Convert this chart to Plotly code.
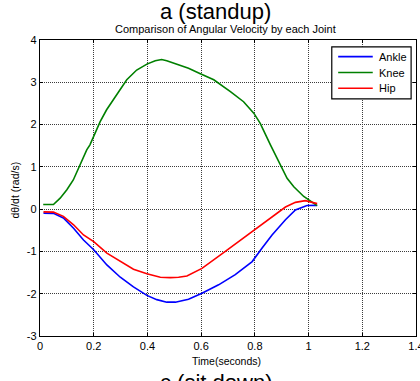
import plotly.graph_objects as go

# Data
series_names = ["Ankle", "Knee", "Hip"]
series_colors = ["rgb(0,0,255)", "rgb(0,128,0)", "rgb(255,0,0)"]

t_ankle = [0.013, 0.05, 0.087, 0.125, 0.162, 0.20, 0.249, 0.299, 0.348, 0.398, 0.435, 0.472, 0.504,
           0.553, 0.603, 0.665, 0.727, 0.79, 0.827, 0.864, 0.914, 0.951, 0.994, 1.032]
ankle = [-0.095, -0.10, -0.21, -0.45, -0.73, -0.96, -1.32, -1.61, -1.84, -2.04, -2.14, -2.20, -2.20,
         -2.13, -1.99, -1.79, -1.55, -1.24, -0.92, -0.61, -0.25, -0.02, 0.085, 0.09]

t_knee = [0.012, 0.05, 0.075, 0.10, 0.124, 0.149, 0.174, 0.186, 0.199, 0.224, 0.248, 0.286, 0.323,
          0.36, 0.398, 0.429, 0.453, 0.472, 0.509, 0.553, 0.597, 0.647, 0.709, 0.758, 0.796, 0.82,
          0.858, 0.895, 0.92, 0.945, 0.982, 1.032]
knee = [0.11, 0.11, 0.26, 0.46, 0.69, 1.05, 1.40, 1.52, 1.72, 2.07, 2.35, 2.70, 3.06,
        3.29, 3.43, 3.51, 3.54, 3.51, 3.43, 3.33, 3.20, 3.06, 2.78, 2.54, 2.27, 2.03,
        1.52, 1.05, 0.73, 0.53, 0.30, 0.085]

t_hip = [0.013, 0.05, 0.087, 0.125, 0.162, 0.20, 0.249, 0.299, 0.348, 0.398, 0.448, 0.485, 0.516,
         0.547, 0.603, 0.69, 0.752, 0.802, 0.864, 0.914, 0.951, 0.988, 1.032]
hip = [-0.064, -0.07, -0.17, -0.37, -0.61, -0.77, -1.04, -1.24, -1.42, -1.53, -1.61, -1.62, -1.61,
       -1.58, -1.40, -1.00, -0.71, -0.47, -0.17, 0.05, 0.16, 0.20, 0.13]

x_ticks = [0, 0.2, 0.4, 0.6, 0.8, 1, 1.2, 1.4]
x_tick_labels = ["0", "0.2", "0.4", "0.6", "0.8", "1", "1.2", "1.4"]
y_ticks = [-3, -2, -1, 0, 1, 2, 3, 4]
y_tick_labels = ["-3", "-2", "-1", "0", "1", "2", "3", "4"]

FONT = "Liberation Sans, Arial, sans-serif"

fig = go.Figure()
for name, color, tx, vy in zip(series_names, series_colors,
                               [t_ankle, t_knee, t_hip], [ankle, knee, hip]):
    fig.add_trace(go.Scatter(x=tx, y=vy, mode="lines", name=name,
                             line=dict(color=color, width=1.6), showlegend=False,
                             hoverinfo="skip"))

axis_common = dict(
    showline=True, linecolor="black", linewidth=1.3, mirror="ticks",
    ticks="inside", ticklen=3, tickcolor="black", tickwidth=1,
    showgrid=True, gridcolor="rgb(60,60,60)", griddash="1px,1px", gridwidth=0.8,
    zeroline=False, automargin=False, ticklabeloverflow="allow",
    tickfont=dict(family=FONT, size=11, color="black"),
)

fig.update_xaxes(range=[0, 1.4], tickmode="array", tickvals=x_ticks, ticktext=x_tick_labels,
                 **axis_common)
fig.update_yaxes(range=[-3, 4], tickmode="array", tickvals=y_ticks, ticktext=y_tick_labels,
                 **axis_common)

# Custom legend box (MATLAB style), positioned in paper coordinates
shapes = [dict(type="rect", xref="paper", yref="paper", x0=0.776, x1=0.987, y0=0.801, y1=0.977,
               line=dict(color="black", width=1.2), fillcolor="white", layer="above")]
annotations = []
leg_y = [0.944, 0.890, 0.837]
for name, color, ly in zip(series_names, series_colors, leg_y):
    shapes.append(dict(type="line", xref="paper", yref="paper", x0=0.793, x1=0.885, y0=ly, y1=ly,
                       line=dict(color=color, width=1.6), layer="above"))
    annotations.append(dict(text=name, xref="paper", yref="paper", x=0.896, y=ly,
                            xanchor="left", yanchor="middle", showarrow=False,
                            font=dict(family=FONT, size=11, color="black")))

annotations += [
    dict(text="a (standup)", xref="paper", yref="paper", x=0.468, y=1.0, yshift=43,
         xanchor="center", yanchor="top", showarrow=False,
         font=dict(family=FONT, size=22, color="black")),
    dict(text="Comparison of Angular Velocity by each Joint", xref="paper", yref="paper",
         x=0.493, y=1.0, yshift=19, xanchor="center", yanchor="top", showarrow=False,
         font=dict(family=FONT, size=11, color="black")),
    dict(text="Time(seconds)", xref="paper", yref="paper", x=0.496, y=-0.0845,
         xanchor="center", yanchor="middle", showarrow=False,
         font=dict(family=FONT, size=10.5, color="black")),
    dict(text="dθ/dt (rad/s)", xref="paper", yref="paper", x=-0.0665, y=0.495,
         xanchor="center", yanchor="middle", textangle=-90, showarrow=False,
         font=dict(family=FONT, size=10.5, color="black")),
    dict(text="c (sit down)", xref="paper", yref="paper", x=0.468, y=0.0, yshift=-32,
         xanchor="center", yanchor="top", showarrow=False,
         font=dict(family=FONT, size=22, color="black")),
]

fig.update_layout(
    width=420, height=381,
    margin=dict(l=40, r=4, t=40, b=45, autoexpand=False),
    paper_bgcolor="white", plot_bgcolor="white",
    font=dict(family=FONT, color="black"),
    showlegend=False,
    shapes=shapes,
    annotations=annotations,
)

fig.write_html(
    "out.html",
    config={"displayModeBar": False},
    post_script="document.body.style.margin='0';document.body.style.overflow='hidden';",
)
